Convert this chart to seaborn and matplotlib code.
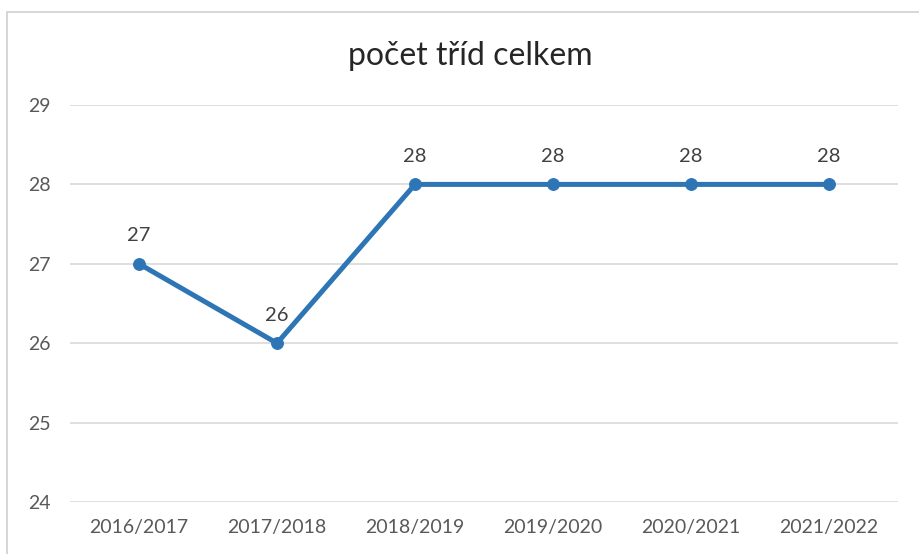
import matplotlib
matplotlib.use('Agg')
import matplotlib.pyplot as plt
import seaborn as sns
import pandas as pd
from matplotlib.patches import Rectangle

# data
years = ['2016/2017', '2017/2018', '2018/2019', '2019/2020', '2020/2021', '2021/2022']
classes = [27, 26, 28, 28, 28, 28]
yticks = [24, 25, 26, 27, 28, 29]
title = 'počet tříd celkem'

df = pd.DataFrame({'rok': years, 'trid': classes})

sns.set_theme(style='white')
plt.rcParams['font.family'] = ['Lato', 'DejaVu Sans']

fig = plt.figure(figsize=(9.2, 5.54), dpi=100)
ax = fig.add_axes([70 / 920, 52 / 554, 828 / 920, 397 / 554])

line_color = '#2E75B6'
sns.lineplot(data=df, x='rok', y='trid', ax=ax, color=line_color, linewidth=3.6,
             marker='o', markersize=8.5, markeredgecolor=line_color, sort=False)

for i, v in enumerate(classes):
    ax.annotate(str(v), (i, v), xytext=(0, 14), textcoords='offset points',
                ha='center', va='bottom', fontsize=14.5, color='#404040')

ax.set_xlim(-0.5, len(years) - 0.5)
ax.set_ylim(24, 29)
ax.set_yticks(yticks)
ax.yaxis.grid(True, color='#D9D9D9', linewidth=1.2)
ax.xaxis.grid(False)
for s in ax.spines.values():
    s.set_visible(False)
ax.tick_params(axis='both', length=0, labelsize=14, labelcolor='#595959')
ax.tick_params(axis='y', pad=14)
ax.tick_params(axis='x', pad=12)
ax.set_xlabel('')
ax.set_ylabel('')

fig.text(470 / 920, 1 - 56 / 554, title, ha='center', va='center',
         fontsize=23, color='#262626')

# chart area border
fig.patches.append(Rectangle((7 / 920, -0.05), 1.0, 1 - 12 / 554 + 0.05,
                             transform=fig.transFigure, fill=False,
                             edgecolor='#D0D0D0', linewidth=1.2))

fig.savefig('out.png', dpi=100)
